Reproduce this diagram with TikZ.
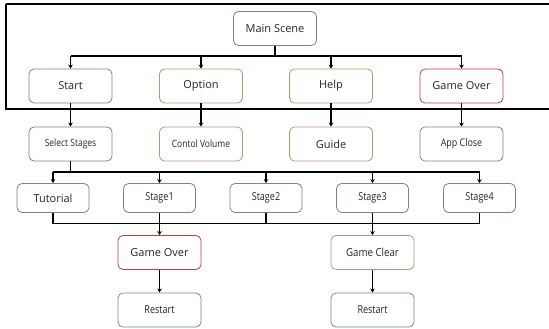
\documentclass[tikz,border=0pt]{standalone}
\usepackage{fontspec}
\setmainfont{Open Sans}
\usetikzlibrary{arrows.meta}
\definecolor{cblue}{HTML}{6F86A8}
\definecolor{corange}{HTML}{C4946E}
\definecolor{cred}{HTML}{C43C40}
\definecolor{cgreen}{HTML}{8FA67C}
\tikzset{
  box/.style={draw=cblue, line width=0.8pt, rounded corners=5pt, fill=white,
    minimum width=83pt, minimum height=34pt, inner sep=0pt, font=\fontsize{11}{13}\selectfont, text=black!85},
  sbox/.style={box, minimum width=72pt, minimum height=29pt},
  orangebox/.style={draw=corange},
  redbox/.style={draw=cred},
  greenbox/.style={draw=cgreen},
  conn/.style={line width=1.5pt, black},
  arr/.style={conn, -{Stealth[length=4pt,width=4.5pt]}},
}
\newcommand{\narrow}[2][0.82]{\scalebox{#1}[1]{#2}}
\begin{document}
\begin{tikzpicture}[x=1pt,y=-1pt]
\useasboundingbox (0,0) rectangle (549,329);
\draw[line width=2.5pt] (6,4) -- (560,4) (6,4) -- (6,109) -- (560,109);
% row 0
\node[box] (main) at (275,28.5) {Main Scene};
% row 1
\node[box] (start) at (70.5,86) {Start};
\node[box,orangebox] (option) at (201,86) {Option};
\node[box,orangebox] (help) at (331,86) {Help};
\node[box,redbox] (over1) at (461.5,86) {Game Over};
% row 2
\node[box] (select) at (70.5,144) {\narrow[0.85]{\fontsize{10}{12}\selectfont Select Stages}};
\node[box,orangebox] (volume) at (201,144) {\narrow[0.85]{\fontsize{10}{12}\selectfont Contol Volume}};
\node[box,orangebox] (guide) at (331,144) {Guide};
\node[box] (close) at (461.5,144) {\narrow[0.85]{\fontsize{10.5}{12}\selectfont App Close}};
% row 3
\node[sbox] (tut) at (53,198) {Tutorial};
\node[sbox] (s1) at (159.5,198) {\narrow{Stage1}};
\node[sbox] (s2) at (266,198) {\narrow{Stage2}};
\node[sbox] (s3) at (372.5,198) {\narrow{Stage3}};
\node[sbox] (s4) at (479.5,198) {\narrow{Stage4}};
% row 4
\node[box,redbox] (over2) at (159.5,252.5) {Game Over};
\node[box,greenbox] (clear) at (372.5,252.5) {\narrow[0.88]{Game Clear}};
% row 5
\node[box] (r1) at (159.5,310) {\narrow{Restart}};
\node[box] (r2) at (372.5,310) {\narrow{Restart}};
% connectors
\coordinate (j0) at (275,56);
\draw[conn] (main.south) -- (j0);
\draw[conn] (start.north |- j0) -- (over1.north |- j0);
\foreach \n in {start,option,help,over1}
  \draw[arr] (\n.north |- j0) -- (\n.north);
\draw[arr] (start) -- (select);
\draw[arr] (option) -- (volume);
\draw[arr] (help) -- (guide);
\draw[arr] (over1) -- (close);
\coordinate (j1) at (70.5,172);
\draw[conn] (select.south) -- (j1);
\draw[conn] (tut.north |- j1) -- (s4.north |- j1);
\foreach \n in {tut,s1,s2,s3,s4}
  \draw[arr] (\n.north |- j1) -- (\n.north);
\coordinate (j2) at (266,223.5);
\draw[conn] (tut.south |- j2) -- (s4.south |- j2);
\foreach \n in {tut,s1,s2,s3,s4}
  \draw[conn] (\n.south) -- (\n.south |- j2);
\draw[arr] (s1.south |- j2) -- (over2.north);
\draw[arr] (s3.south |- j2) -- (clear.north);
\draw[arr] (over2) -- (r1);
\draw[arr] (clear) -- (r2);
\end{tikzpicture}
\end{document}
